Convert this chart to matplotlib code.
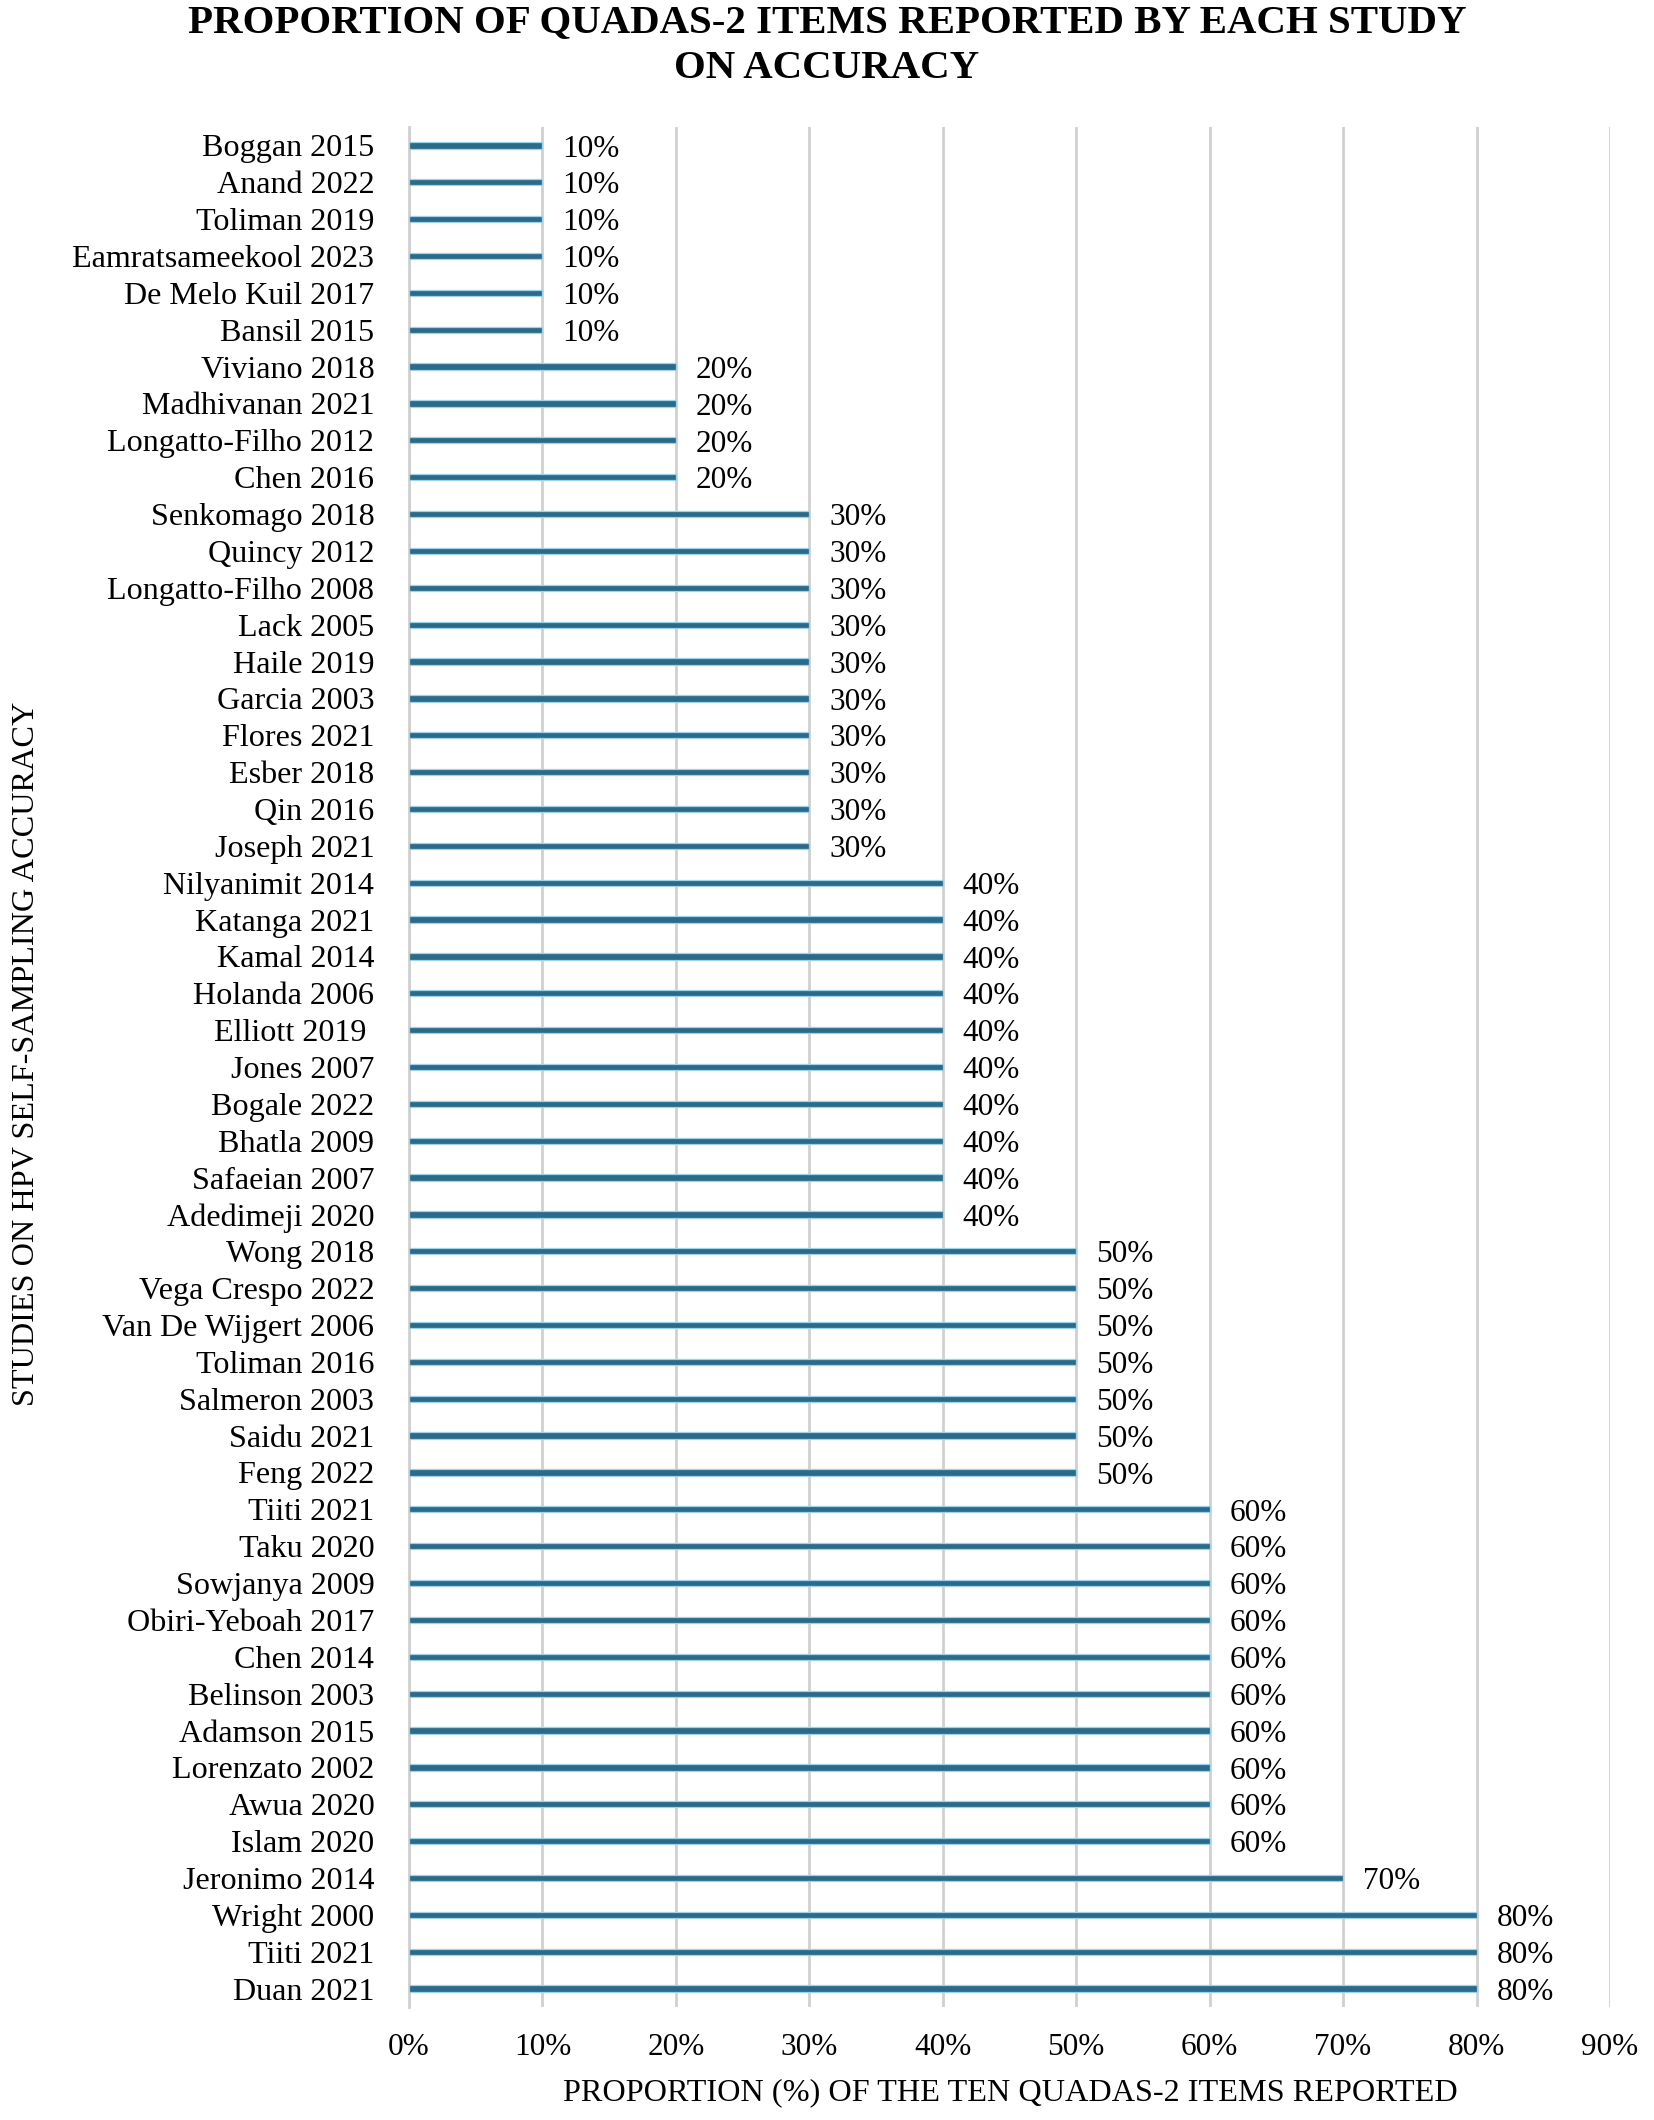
import matplotlib
matplotlib.use("Agg")
import matplotlib.pyplot as plt
from matplotlib.ticker import FuncFormatter

plt.rcParams['font.family'] = ['Liberation Serif', 'DejaVu Serif']

studies = [
    "Boggan 2015", "Anand 2022", "Toliman 2019", "Eamratsameekool 2023",
    "De Melo Kuil 2017", "Bansil 2015", "Viviano 2018", "Madhivanan 2021",
    "Longatto-Filho 2012", "Chen 2016", "Senkomago 2018", "Quincy 2012",
    "Longatto-Filho 2008", "Lack 2005", "Haile 2019", "Garcia 2003",
    "Flores 2021", "Esber 2018", "Qin 2016", "Joseph 2021",
    "Nilyanimit 2014", "Katanga 2021", "Kamal 2014", "Holanda 2006",
    "Elliott 2019 ", "Jones 2007", "Bogale 2022", "Bhatla 2009",
    "Safaeian 2007", "Adedimeji 2020", "Wong 2018", "Vega Crespo 2022",
    "Van De Wijgert 2006", "Toliman 2016", "Salmeron 2003", "Saidu 2021",
    "Feng 2022", "Tiiti 2021", "Taku 2020", "Sowjanya 2009",
    "Obiri-Yeboah 2017", "Chen 2014", "Belinson 2003", "Adamson 2015",
    "Lorenzato 2002", "Awua 2020", "Islam 2020", "Jeronimo 2014",
    "Wright 2000", "Tiiti 2021", "Duan 2021",
]
proportion = [
    0.1, 0.1, 0.1, 0.1, 0.1, 0.1,
    0.2, 0.2, 0.2, 0.2,
    0.3, 0.3, 0.3, 0.3, 0.3, 0.3, 0.3, 0.3, 0.3, 0.3,
    0.4, 0.4, 0.4, 0.4, 0.4, 0.4, 0.4, 0.4, 0.4, 0.4,
    0.5, 0.5, 0.5, 0.5, 0.5, 0.5, 0.5,
    0.6, 0.6, 0.6, 0.6, 0.6, 0.6, 0.6, 0.6, 0.6, 0.6,
    0.7,
    0.8, 0.8, 0.8,
]
x_ticks = [0.0, 0.1, 0.2, 0.3, 0.4, 0.5, 0.6, 0.7, 0.8, 0.9]

title = "PROPORTION OF QUADAS-2 ITEMS REPORTED BY EACH STUDY\nON ACCURACY"
xlabel = "PROPORTION (%) OF THE TEN QUADAS-2 ITEMS REPORTED"
ylabel = "STUDIES ON HPV SELF-SAMPLING ACCURACY"

fig = plt.figure(figsize=(16.54, 21.2), dpi=100)
ax = fig.add_axes([409/1654, 1 - 2007/2120, (1610-409)/1654, (2007-127)/2120])

pos = list(range(len(studies)))
ax.barh(pos, proportion, height=0.17, color='#2b6b89', edgecolor='#9fd2ea',
        linewidth=0.9, zorder=3)

for y, v in zip(pos, proportion):
    ax.text(v + 0.015, y + 0.1, f"{int(round(v*100))}%", va='center', ha='left',
            fontsize=22.5, color='black')

ax.set_xlim(0, 0.9)
ax.set_ylim(len(studies) - 0.5, -0.5)
ax.set_xticks(x_ticks)
ax.xaxis.set_major_formatter(FuncFormatter(lambda v, p: f"{int(round(v*100))}%"))
ax.set_yticks(pos)
ax.set_yticklabels(studies)
ax.tick_params(axis='y', length=0, pad=25, labelsize=23.1)
ax.tick_params(axis='x', length=0, pad=19, labelsize=22.5)

ax.grid(axis='x', color='#d0d0d0', linewidth=2, zorder=0)
ax.grid(axis='y', visible=False)
for s in ['top', 'right', 'bottom']:
    ax.spines[s].set_visible(False)
ax.spines['left'].set_color('#d0d0d0')
ax.spines['left'].set_linewidth(2)

fig.text(1010/1654, 1 - 2093/2120, xlabel, ha='center', va='center', fontsize=23.2)
fig.text(27/1654, 1 - 1054/2120, ylabel, ha='center', va='center', rotation=90,
         fontsize=23.2)
fig.text(0.5, 1 - 46/2120, title, ha='center', va='center', fontsize=29.4,
         fontweight='bold', linespacing=1.32)

fig.savefig("out.png", dpi=100, facecolor='white')
